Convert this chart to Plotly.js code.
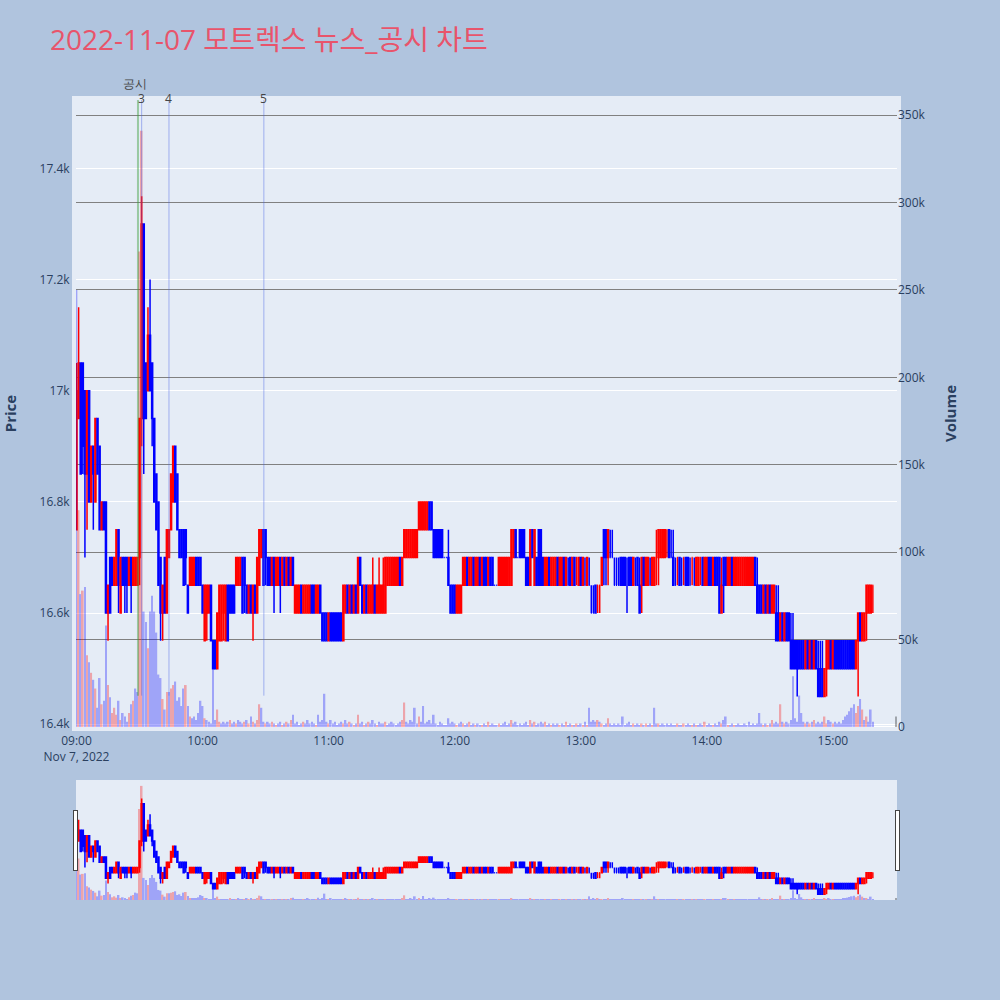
<!DOCTYPE html>
<html>
<head>
<meta charset="utf-8">
<script src="https://cdn.plot.ly/plotly-3.0.1.min.js"></script>
<style>html,body{margin:0;padding:0;background:#B0C4DE;}#chart{width:1000px;height:1000px;}</style>
</head>
<body>
<div id="chart"></div>
<script>
const chartDate = '2022-11-07';
const times = ['09:00','09:01','09:02','09:03','09:04','09:05','09:06','09:07','09:08','09:09','09:10','09:11','09:12','09:13','09:14','09:15','09:16','09:17','09:18','09:19','09:20','09:21','09:22','09:23','09:24','09:25','09:26','09:27','09:28','09:29','09:30','09:31','09:32','09:33','09:34','09:35','09:36','09:37','09:38','09:39','09:40','09:41','09:42','09:43','09:44','09:45','09:46','09:47','09:48','09:49','09:50','09:51','09:52','09:53','09:54','09:55','09:56','09:57','09:58','09:59',
'10:00','10:01','10:02','10:03','10:04','10:05','10:06','10:07','10:08','10:09','10:10','10:11','10:12','10:13','10:14','10:15','10:16','10:17','10:18','10:19','10:20','10:21','10:22','10:23','10:24','10:25','10:26','10:27','10:28','10:29','10:30','10:31','10:32','10:33','10:34','10:35','10:36','10:37','10:38','10:39','10:40','10:41','10:42','10:43','10:44','10:45','10:46','10:47','10:48','10:49','10:50','10:51','10:52','10:53','10:54','10:55','10:56','10:57','10:58','10:59',
'11:00','11:01','11:02','11:03','11:04','11:05','11:06','11:07','11:08','11:09','11:10','11:11','11:12','11:13','11:14','11:15','11:16','11:17','11:18','11:19','11:20','11:21','11:22','11:23','11:24','11:25','11:26','11:27','11:28','11:29','11:30','11:31','11:32','11:33','11:34','11:35','11:36','11:37','11:38','11:39','11:40','11:41','11:42','11:43','11:44','11:45','11:46','11:47','11:48','11:49','11:50','11:51','11:52','11:53','11:54','11:55','11:56','11:57','11:58','11:59',
'12:00','12:01','12:02','12:03','12:04','12:05','12:06','12:07','12:08','12:09','12:10','12:11','12:12','12:13','12:14','12:15','12:16','12:17','12:18','12:19','12:20','12:21','12:22','12:23','12:24','12:25','12:26','12:27','12:28','12:29','12:30','12:31','12:32','12:33','12:34','12:35','12:36','12:37','12:38','12:39','12:40','12:41','12:42','12:43','12:44','12:45','12:46','12:47','12:48','12:49','12:50','12:51','12:52','12:53','12:54','12:55','12:56','12:57','12:58','12:59',
'13:00','13:01','13:02','13:03','13:04','13:05','13:06','13:07','13:08','13:09','13:10','13:11','13:12','13:13','13:14','13:15','13:16','13:17','13:18','13:19','13:20','13:21','13:22','13:23','13:24','13:25','13:26','13:27','13:28','13:29','13:30','13:31','13:32','13:33','13:34','13:35','13:36','13:37','13:38','13:39','13:40','13:41','13:42','13:43','13:44','13:45','13:46','13:47','13:48','13:49','13:50','13:51','13:52','13:53','13:54','13:55','13:56','13:57','13:58','13:59',
'14:00','14:01','14:02','14:03','14:04','14:05','14:06','14:07','14:08','14:09','14:10','14:11','14:12','14:13','14:14','14:15','14:16','14:17','14:18','14:19','14:20','14:21','14:22','14:23','14:24','14:25','14:26','14:27','14:28','14:29','14:30','14:31','14:32','14:33','14:34','14:35','14:36','14:37','14:38','14:39','14:40','14:41','14:42','14:43','14:44','14:45','14:46','14:47','14:48','14:49','14:50','14:51','14:52','14:53','14:54','14:55','14:56','14:57','14:58','14:59',
'15:00','15:01','15:02','15:03','15:04','15:05','15:06','15:07','15:08','15:09','15:10','15:11','15:12','15:13','15:14','15:15','15:16','15:17','15:18','15:19','15:30'];

const open = [16750,16950,17050,17050,17000,16850,17000,16800,16900,16800,16950,16900,16750,16800,16800,16600,16700,16700,16650,16650,16750,16600,16700,16700,16700,16650,16700,16650,16650,16650,
16700,16950,17300,17050,17000,17100,17050,16950,16850,16800,16700,16600,16700,16600,16700,16750,16800,16900,16850,16750,16750,16750,16750,16650,16650,16650,16650,16700,16700,16700,
16650,16550,16600,16600,16650,16550,16550,16500,16550,16550,16600,16550,16650,16650,16650,16650,16650,16650,16650,16700,16700,16650,16600,16650,16600,16650,16600,16650,16700,16750,
16750,16700,16700,16650,16700,16650,16650,16700,16650,16700,16650,16700,16650,16700,16600,16600,16600,16650,16600,16600,16600,16600,16650,16650,16600,16600,16650,16600,16600,16600,
16550,16600,16600,16600,16600,16600,16600,16550,16600,16650,16600,16650,16600,16650,16600,16700,16650,16600,16650,16600,16600,16600,16650,16600,16600,16600,16600,16600,16650,16650,
16650,16650,16650,16650,16700,16650,16700,16700,16700,16700,16700,16700,16700,16750,16750,16750,16750,16750,16800,16800,16750,16750,16750,16750,16750,16700,16700,16700,16650,16650,
16650,16600,16600,16600,16650,16650,16700,16650,16650,16700,16650,16650,16700,16650,16700,16700,16650,16700,16700,16650,16650,16650,16650,16650,16650,16650,16650,16650,16700,16750,
16700,16750,16750,16750,16700,16700,16650,16750,16650,16700,16750,16750,16700,16650,16650,16700,16650,16650,16650,16700,16650,16650,16700,16650,16650,16700,16650,16700,16700,16650,
16700,16650,16650,16650,16650,16600,16600,16650,16650,16650,16650,16750,16750,16700,16700,16700,16650,16650,16650,16700,16700,16700,16650,16700,16700,16650,16650,16700,16650,16650,
16700,16650,16650,16650,16650,16650,16700,16700,16700,16700,16700,16750,16750,16700,16700,16650,16700,16700,16650,16700,16700,16700,16650,16700,16650,16650,16650,16700,16700,16650,
16650,16700,16700,16650,16700,16700,16700,16600,16700,16700,16650,16650,16700,16650,16650,16650,16650,16650,16650,16650,16650,16650,16650,16700,16650,16650,16650,16600,16650,16600,
16650,16600,16600,16600,16600,16550,16600,16550,16600,16600,16550,16550,16550,16550,16550,16550,16550,16500,16550,16500,16550,16500,16550,16500,16500,16500,16450,16500,16500,16550,
16500,16550,16550,16550,16550,16550,16550,16550,16550,16550,16550,16500,16550,16600,16550,16550,16600,16600,16600,16650];

const high = [17050,17150,17050,17050,17000,17000,17000,16900,16900,16950,16950,16900,16800,16800,16800,16650,16700,16700,16700,16750,16750,16700,16700,16700,16700,16700,16700,16700,16700,16700,
16950,17350,17300,17050,17150,17200,17050,16950,16850,16800,16700,16650,16700,16750,16750,16850,16900,16900,16850,16750,16750,16750,16750,16650,16700,16700,16700,16700,16700,16700,
16650,16650,16650,16650,16650,16550,16550,16600,16650,16650,16650,16650,16650,16650,16650,16650,16700,16700,16700,16700,16700,16650,16650,16650,16650,16650,16700,16750,16750,16750,
16750,16700,16700,16700,16700,16700,16700,16700,16700,16700,16700,16700,16700,16700,16650,16650,16650,16650,16650,16650,16650,16650,16650,16650,16650,16650,16650,16600,16600,16600,
16600,16600,16600,16600,16600,16600,16600,16650,16650,16650,16650,16650,16650,16650,16700,16700,16650,16650,16650,16650,16650,16700,16650,16650,16700,16650,16700,16700,16700,16700,
16700,16700,16700,16700,16700,16700,16750,16750,16750,16750,16750,16750,16750,16800,16800,16800,16800,16800,16800,16800,16750,16750,16750,16750,16750,16700,16700,16750,16650,16650,
16650,16650,16650,16650,16700,16700,16700,16700,16700,16700,16700,16700,16700,16700,16700,16700,16700,16700,16700,16650,16650,16700,16700,16700,16700,16700,16700,16750,16750,16750,
16700,16750,16750,16750,16700,16700,16750,16750,16750,16700,16750,16750,16700,16700,16700,16700,16700,16700,16700,16700,16700,16700,16700,16700,16700,16700,16700,16700,16700,16700,
16700,16700,16700,16700,16700,16650,16650,16650,16650,16650,16700,16700,16700,16750,16750,16750,16700,16700,16700,16650,16650,16650,16700,16700,16700,16700,16700,16700,16700,16650,
16700,16700,16700,16700,16700,16700,16750,16750,16750,16750,16750,16750,16750,16750,16750,16700,16700,16700,16700,16700,16700,16700,16700,16700,16700,16700,16700,16700,16700,16700,
16700,16700,16700,16700,16700,16700,16700,16700,16650,16700,16700,16700,16700,16700,16700,16700,16700,16700,16700,16700,16700,16700,16700,16700,16700,16650,16650,16650,16650,16650,
16650,16650,16650,16650,16650,16600,16600,16600,16600,16600,16600,16600,16550,16550,16550,16550,16550,16550,16550,16550,16550,16550,16550,16550,16550,16550,16500,16500,16500,16500,
16550,16550,16550,16550,16550,16550,16550,16550,16550,16550,16550,16550,16550,16600,16600,16600,16600,16650,16650,16650,16650];

const low = [16750,16950,16850,16850,16700,16750,16800,16800,16750,16800,16850,16750,16750,16750,16600,16550,16600,16650,16650,16650,16600,16600,16650,16600,16600,16650,16600,16650,16650,16650,
16650,16900,16850,16950,17000,17000,16900,16800,16750,16650,16550,16550,16600,16600,16700,16750,16800,16800,16750,16700,16700,16650,16650,16600,16650,16650,16650,16650,16650,16650,
16600,16550,16550,16600,16550,16500,16500,16500,16550,16550,16550,16550,16550,16600,16600,16600,16650,16650,16650,16600,16600,16600,16600,16600,16550,16600,16600,16650,16700,16650,
16650,16650,16650,16650,16600,16650,16650,16600,16650,16650,16650,16650,16650,16650,16650,16600,16600,16600,16600,16600,16600,16600,16600,16600,16600,16600,16600,16600,16550,16550,
16550,16550,16550,16550,16550,16550,16550,16550,16600,16600,16600,16600,16600,16600,16600,16650,16600,16600,16600,16600,16600,16600,16600,16600,16600,16600,16600,16600,16650,16650,
16650,16650,16650,16650,16650,16650,16700,16700,16700,16700,16700,16700,16700,16750,16750,16750,16750,16750,16750,16750,16700,16700,16700,16700,16700,16700,16700,16650,16600,16600,
16600,16600,16600,16600,16650,16650,16650,16650,16650,16650,16650,16650,16650,16650,16650,16650,16650,16650,16650,16650,16650,16650,16650,16650,16650,16650,16650,16650,16700,16700,
16700,16700,16700,16700,16650,16650,16650,16700,16650,16650,16650,16650,16650,16650,16650,16650,16650,16650,16650,16650,16650,16650,16650,16650,16650,16650,16650,16650,16650,16650,
16650,16650,16650,16650,16650,16600,16600,16600,16600,16600,16650,16650,16650,16650,16700,16700,16650,16650,16650,16650,16650,16650,16600,16650,16650,16650,16650,16650,16650,16600,
16650,16650,16650,16650,16650,16650,16650,16650,16700,16700,16700,16700,16700,16700,16700,16650,16650,16650,16650,16650,16650,16650,16650,16650,16650,16650,16650,16650,16650,16650,
16650,16650,16650,16650,16650,16650,16650,16600,16600,16650,16650,16650,16650,16650,16650,16650,16650,16650,16650,16650,16650,16650,16650,16650,16650,16600,16600,16600,16600,16600,
16600,16600,16600,16600,16550,16550,16550,16550,16550,16550,16550,16500,16500,16450,16500,16500,16500,16500,16500,16500,16500,16500,16500,16500,16450,16450,16450,16450,16500,16500,
16500,16500,16500,16500,16500,16500,16500,16500,16500,16500,16500,16500,16450,16550,16550,16550,16550,16600,16600,16600,16650];

const close = [17000,17050,16850,16900,16850,17000,16800,16900,16850,16950,16850,16750,16800,16750,16600,16650,16600,16650,16700,16750,16650,16700,16650,16650,16650,16700,16650,16700,16700,16700,
16950,17300,16950,16950,17100,17000,16950,16800,16750,16650,16600,16650,16600,16750,16750,16850,16900,16800,16750,16700,16700,16650,16700,16600,16700,16700,16700,16650,16650,16650,
16600,16650,16650,16650,16550,16500,16500,16600,16650,16650,16650,16650,16550,16600,16600,16600,16700,16700,16700,16600,16650,16600,16650,16600,16650,16600,16700,16750,16750,16650,
16700,16650,16650,16700,16650,16700,16700,16650,16700,16650,16700,16650,16700,16650,16650,16650,16650,16600,16650,16650,16650,16650,16600,16600,16650,16650,16600,16550,16550,16550,
16600,16550,16550,16550,16550,16550,16550,16650,16650,16600,16650,16600,16650,16600,16700,16650,16600,16650,16600,16650,16650,16650,16600,16650,16650,16650,16650,16700,16700,16700,
16700,16700,16700,16700,16650,16700,16750,16750,16750,16750,16750,16750,16750,16800,16800,16800,16800,16800,16750,16750,16700,16700,16700,16700,16700,16700,16700,16650,16600,16600,
16600,16650,16650,16650,16700,16700,16650,16700,16700,16650,16700,16700,16650,16700,16650,16650,16700,16650,16650,16650,16650,16700,16700,16700,16700,16700,16700,16750,16750,16700,
16700,16700,16700,16700,16650,16650,16750,16700,16750,16650,16650,16650,16650,16700,16700,16650,16700,16700,16700,16650,16700,16700,16650,16700,16650,16650,16700,16650,16700,16700,
16650,16700,16650,16700,16650,16600,16600,16600,16650,16650,16700,16700,16700,16750,16700,16700,16650,16650,16650,16650,16650,16650,16650,16650,16650,16700,16650,16650,16600,
16700,16650,16700,16700,16650,16700,16700,16700,16750,16750,16750,16750,16750,16700,16700,16650,16650,16700,16650,16650,16700,16650,16650,16650,16700,16650,16700,16700,16700,16650,
16700,16700,16650,16650,16700,16650,16650,16600,16650,16650,16650,16700,16700,16650,16700,16700,16700,16700,16700,16700,16700,16700,16700,16700,16650,16600,16600,16600,16650,16600,
16650,16600,16650,16650,16550,16550,16600,16550,16600,16550,16550,16500,16500,16500,16500,16500,16500,16500,16550,16500,16550,16500,16550,16500,16450,16450,16450,16500,16550,16550,
16500,16550,16500,16500,16500,16500,16500,16500,16500,16500,16500,16500,16550,16600,16550,16600,16600,16650,16650,16650,16650];

const volume = [250000,124000,76000,78000,80000,41000,37000,31000,27000,22000,11000,28000,13000,15000,58000,24000,17000,8000,11000,7000,15000,4000,8000,6000,3000,8000,13000,15000,22000,20000,
272000,341000,66000,60000,45000,66000,75000,66000,54000,30000,28000,16000,10000,20000,20000,22000,24000,26000,15000,17000,12000,22000,24000,12000,6000,5000,6000,4000,8000,15000,
12000,5000,4000,3000,2000,33000,4000,10000,3000,2000,3000,2000,3000,4000,2000,3000,2000,4000,3000,2000,3000,4000,2000,6000,3000,2000,4000,13000,11000,3000,
2000,3000,2000,3000,2000,1000,2000,3000,1000,2000,3000,2000,4000,7000,2000,3000,1000,2000,3000,2000,4000,2000,3000,2000,1000,7000,3000,4000,19000,3000,
2000,4000,2000,3000,1000,2000,3000,2000,4000,2000,3000,2000,1000,2000,7000,2000,3000,1000,2000,3000,2000,4000,2000,1000,3000,2000,2000,3000,1000,2000,
3000,2000,1000,2000,3000,4000,14000,3000,2000,4000,3000,11000,2000,6000,3000,12000,2000,3000,4000,2000,7000,2000,1000,3000,2000,1000,1000,5000,2000,3000,
2000,1000,2000,3000,2000,1000,2000,3000,1000,2000,1000,2000,1000,1000,2000,1000,3000,1000,2000,1000,1000,2000,1000,2000,3000,1000,2000,4000,2000,3000,
1000,2000,1000,2000,3000,1000,4000,2000,3000,1000,2000,3000,2000,3000,1000,2000,1000,2000,1000,2000,1000,2000,1000,3000,1000,2000,1000,1000,2000,1000,
2000,1000,3000,1000,11000,3000,4000,3000,4000,3000,2000,1000,2000,5000,2000,1000,2000,1000,2000,1000,6000,1000,2000,3000,1000,2000,1000,2000,1000,2000,
1000,2000,1000,2000,1000,11000,2000,2000,1000,2000,1000,2000,1000,2000,1000,1000,2000,1000,1000,2000,1000,2000,1000,1000,2000,1000,1000,2000,1000,3000,
1000,2000,1000,1000,2000,1000,3000,2000,4000,6000,1000,1000,2000,1000,1000,2000,1000,1000,2000,1000,3000,1000,2000,1000,2000,8000,2000,1000,2000,1000,
2000,4000,2000,3000,2000,13000,3000,2000,3000,2000,4000,29000,5000,3000,18000,8000,3000,2000,3000,2000,3000,4000,2000,3000,2000,3000,6000,2000,4000,3000,
2000,3000,2000,3000,2000,4000,6000,7000,9000,11000,13000,8000,12000,16000,10000,4000,6000,3000,10000,3000,6000,30000];

const eventTimes = ['09:29:15', '09:31:00', '09:44:00', '10:29:10'];
const eventLabels = ['공시', '3', '4', '5'];
const eventColors = ['rgba(60,160,60,0.45)', 'rgba(70,100,230,0.45)', 'rgba(70,100,230,0.45)', 'rgba(70,100,230,0.45)'];
const eventLabelY = [1.027, 1.003, 1.003, 1.003];

const xs = times.map(t => chartDate + ' ' + t + ':00');
const volColors = close.map((c, i) => (i > 0 && c > close[i - 1]) ? 'red' : 'blue');

const candle = {
  type: 'candlestick', x: xs, open: open, high: high, low: low, close: close,
  increasing: {line: {color: 'red', width: 1.5}, fillcolor: 'red'},
  decreasing: {line: {color: 'blue', width: 1.5}, fillcolor: 'blue'},
  yaxis: 'y', hoverinfo: 'skip', showlegend: false
};
const bars = {
  type: 'bar', x: xs, y: volume, yaxis: 'y2',
  marker: {color: volColors}, opacity: 0.3, showlegend: false, hoverinfo: 'skip'
};

const shapes = eventTimes.map((t, i) => ({
  type: 'line', xref: 'x', yref: 'paper',
  x0: chartDate + ' ' + t, x1: chartDate + ' ' + t, y0: 0.05, y1: 1,
  line: {color: eventColors[i], width: i === 0 ? 2 : 1}
}));
const annotations = eventTimes.map((t, i) => ({
  xref: 'x', yref: 'paper', x: chartDate + ' ' + t, y: eventLabelY[i],
  text: eventLabels[i], showarrow: false, yanchor: 'middle', xanchor: 'center',
  xshift: i === 0 ? -3 : 0,
  font: {size: 12, color: '#444'}
}));

const axisFont = {family: '"Open Sans", verdana, arial, sans-serif', size: 12, color: '#2a3f5f'};
const layout = {
  width: 1000, height: 1000,
  paper_bgcolor: '#B0C4DE', plot_bgcolor: '#E5ECF6',
  font: axisFont,
  margin: {l: 76, r: 103, t: 100, b: 100},
  title: {text: '2022-11-07 모트렉스 뉴스_공시 차트', x: 0.05, xanchor: 'left', y: 0.96, yanchor: 'middle',
          font: {size: 28, color: '#E8546B', family: '"Open Sans", "Noto Sans CJK KR", sans-serif'}},
  showlegend: false,
  xaxis: {
    type: 'date', range: [chartDate + ' 08:59:45', chartDate + ' 15:30:30'],
    showgrid: false, showline: true, linecolor: '#E5ECF6', linewidth: 4, mirror: true,
    ticks: '', tickfont: axisFont,
    rangeslider: {visible: true, thickness: 0.15, bgcolor: '#E5ECF6', borderwidth: 0,
                  range: [chartDate + ' 08:59:45', chartDate + ' 15:30:30']}
  },
  yaxis: {
    range: [16395, 17523], side: 'left', gridcolor: 'white', gridwidth: 1, zeroline: false,
    showline: true, linecolor: '#E5ECF6', linewidth: 4, mirror: true, ticks: '',
    title: {text: 'Price', font: {size: 15, color: '#2a3f5f', weight: 'bold'}, standoff: 32}
  },
  yaxis2: {
    overlaying: 'y', side: 'right', range: [0, 358600], gridcolor: 'gray', gridwidth: 1,
    zeroline: true, zerolinecolor: 'white', zerolinewidth: 2, ticks: '',
    title: {text: 'Volume', font: {size: 15, color: '#2a3f5f', weight: 'bold'}, standoff: 20}
  },
  shapes: shapes,
  annotations: annotations
};

Plotly.newPlot('chart', [candle, bars], layout, {displayModeBar: false});
</script>
</body>
</html>
